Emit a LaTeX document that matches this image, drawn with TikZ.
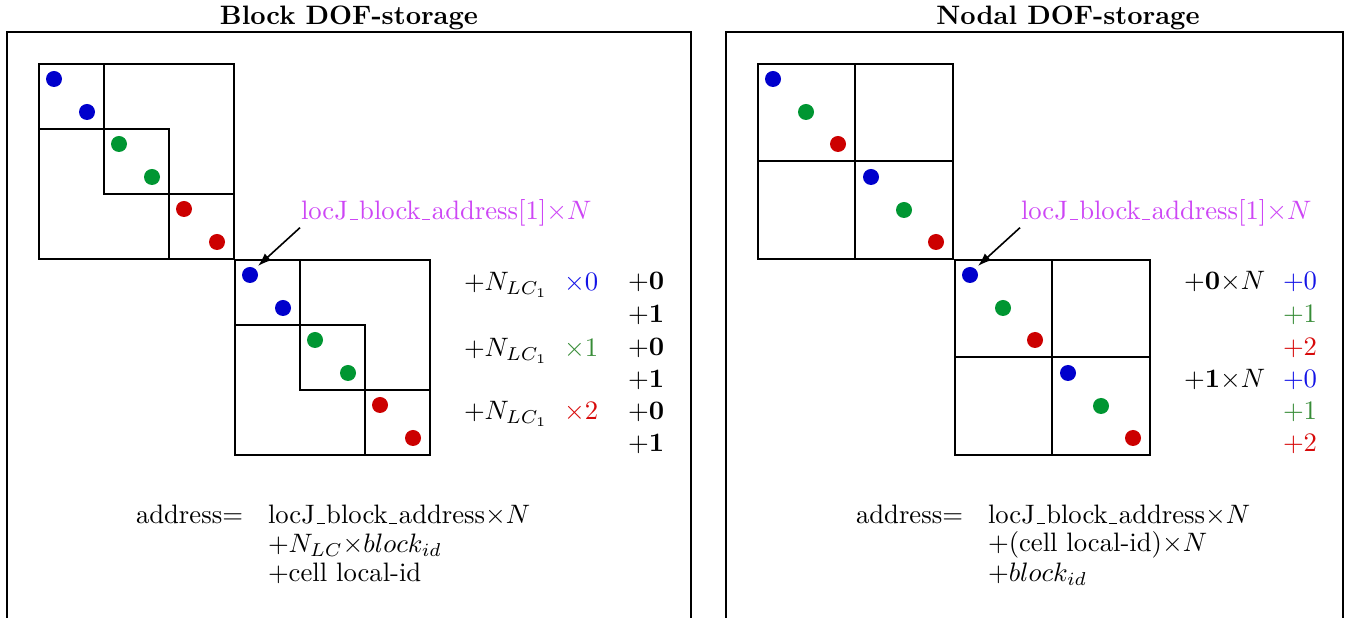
\documentclass[tikz,border=0pt]{standalone}
\usepackage{amsmath}
\usepackage{amssymb}
\usetikzlibrary{calc, positioning}
\usetikzlibrary{arrows.meta}
\definecolor{dotblue}{RGB}{0,0,204}
\definecolor{dotgreen}{RGB}{0,150,50}
\definecolor{dotred}{RGB}{204,0,0}
\definecolor{txtblue}{RGB}{20,20,230}
\definecolor{txtgreen}{RGB}{55,140,55}
\definecolor{txtred}{RGB}{215,10,10}
\definecolor{lblmag}{RGB}{205,70,245}
% short low rule, as the old underscore
\newcommand{\usc}{\leavevmode\kern.06em\vbox{\hrule width.3em}\kern.06em}
\tikzset{
  txt/.style={anchor=base west, inner sep=0pt},
  dof/.style={fill=#1, radius=3pt},
}

\begin{document}
\begin{tikzpicture}[x=0.375pt, y=-0.375pt, line width=0.75pt]
    \def\big{195}
    \def\sub{65}
\useasboundingbox (0,0) rectangle (1348,618);
% frames and titles
\draw (7,640) -- (7,32) -- (691,32) -- (691,640);
\draw (726,640) -- (726,32) -- (1343,32) -- (1343,640);
\node[inner sep=0pt, anchor=base, font=\bfseries] (tblock) at (349,25) {Block DOF-storage};
\node[inner sep=0pt, anchor=base, font=\bfseries] (tnodal) at (1068,25) {Nodal DOF-storage};

% block storage: one sub-block per colour
\foreach \bx/\by in {39/64, 235/260} {
  \draw (\bx,\by) rectangle ++(\big,\big);
  \foreach \i/\c in {0/dotblue, 1/dotgreen, 2/dotred} {
    \draw (\bx+\i*\sub,\by+\i*\sub) rectangle ++(\sub,\sub);
    \fill[dof=\c] (\bx+\i*\sub+15,\by+\i*\sub+15) circle;
    \fill[dof=\c] (\bx+\i*\sub+48,\by+\i*\sub+48) circle;
  }
}

% nodal storage: one sub-block per cell
\foreach \bx/\by in {758/64, 955/260} {
  \draw (\bx,\by) rectangle ++(\big,\big);
  \draw (\bx+97,\by) -- (\bx+97,\by+\big);
  \draw (\bx,\by+97) -- (\bx+\big,\by+97);
  \foreach \k in {0,1} {
    \fill[dof=dotblue]  (\bx+\k*98+15,\by+\k*98+15) circle;
    \fill[dof=dotgreen] (\bx+\k*98+48,\by+\k*98+48) circle;
    \fill[dof=dotred]   (\bx+\k*98+80,\by+\k*98+80) circle;
  }
}

% pointers to the second block
\node[txt, text=lblmag] (lbladdr) at (300,220) {locJ\usc block\usc address[1]$\times N$};
\node[txt, text=lblmag] (nbladdr) at (1020,220) {locJ\usc block\usc address[1]$\times N$};
\coordinate (ltip) at (258,266);
\coordinate (ntip) at (978,266);
\draw[-{Latex[length=5pt,width=3.5pt]}, line width=0.6pt] (lbladdr.south west) -- (ltip);
\draw[-{Latex[length=5pt,width=3.5pt]}, line width=0.6pt] (nbladdr.south west) -- (ntip);

% block offsets
\foreach \r/\m/\c in {291/0/txtblue, 357/1/txtgreen, 420/2/txtred} {
  \node[txt] (nlc\m) at (463,\r) {$+N_{LC_1}$};
  \node[txt, text=\c] (mul\m) at (563,\r) {$\times\m$};
}
\foreach \r/\v [count=\j] in {290/0, 323/1, 356/0, 388/1, 420/0, 452/1} {
  \node[txt] (loc\j) at (627,\r) {$+\mathbf{\v}$};
}

% nodal offsets
\node[txt] (cell0) at (1183,290) {$+\mathbf{0}{\times}N$};
\node[txt] (cell1) at (1183,388) {$+\mathbf{1}{\times}N$};
\foreach \r/\v/\c [count=\j] in {290/0/txtblue, 323/1/txtgreen, 356/2/txtred,
                                  388/0/txtblue, 420/1/txtgreen, 452/2/txtred} {
  \node[txt, text=\c] (nid\j) at (1282,\r) {$+\v$};
}

% address formulas
\node[txt] (laddr) at (135,524) {address=};
\node[txt] (lline1) at (267,524) {locJ\usc block\usc address$\times N$};
\node[txt] (lline2) at (267,553) {$+N_{LC}{\times}block_{id}$};
\node[txt] (lline3) at (267,582) {$+$cell local-id};
\node[txt] (naddr) at (855,524) {address=};
\node[txt] (nline1) at (987,524) {locJ\usc block\usc address$\times N$};
\node[txt] (nline2) at (987,552) {$+$(cell local-id)$\times N$};
\node[txt] (nline3) at (987,582) {$+block_{id}$};
\end{tikzpicture}
\end{document}
